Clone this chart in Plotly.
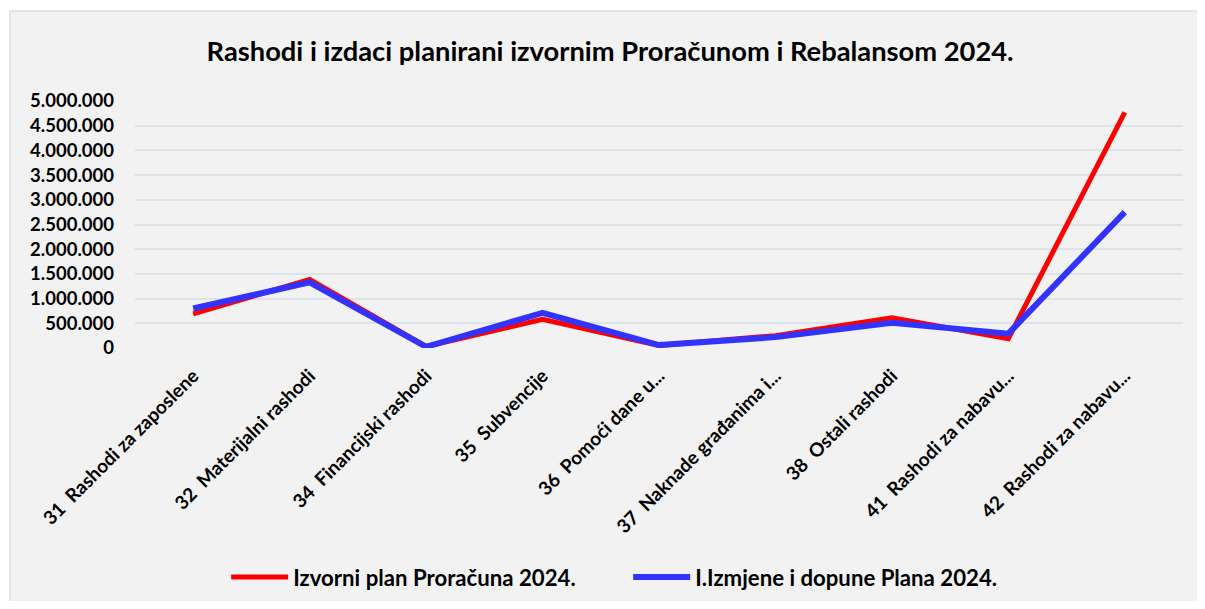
import plotly.graph_objects as go

categories = [
    "31  Rashodi za zaposlene",
    "32  Materijalni rashodi",
    "34  Financijski rashodi",
    "35  Subvencije",
    "36  Pomoći dane u...",
    "37  Naknade građanima i...",
    "38  Ostali rashodi",
    "41  Rashodi za nabavu...",
    "42  Rashodi za nabavu...",
]
izvorni_plan = [690000, 1390000, 30000, 580000, 50000, 250000, 610000, 190000, 4770000]
izmjene_plan = [800000, 1330000, 25000, 710000, 60000, 220000, 510000, 290000, 2750000]

series_names = ["Izvorni plan Proračuna 2024.", "I.Izmjene i dopune Plana 2024."]
tick_vals = [0, 500000, 1000000, 1500000, 2000000, 2500000, 3000000, 3500000, 4000000, 4500000, 5000000]
tick_text = ["0", "500.000", "1.000.000", "1.500.000", "2.000.000", "2.500.000",
             "3.000.000", "3.500.000", "4.000.000", "4.500.000", "5.000.000"]

FONT = "Lato"
BG = "#f2f2f2"

fig = go.Figure()
fig.add_trace(go.Scatter(x=categories, y=izvorni_plan, mode="lines",
                         name="<b>" + series_names[0] + "</b>",
                         line=dict(color="#ff0000", width=5)))
fig.add_trace(go.Scatter(x=categories, y=izmjene_plan, mode="lines",
                         name="<b>" + series_names[1] + "</b>",
                         line=dict(color="#3333ff", width=6)))

fig.add_shape(type="rect", xref="paper", yref="paper", x0=-0.1193, x1=1.3, y0=-1.5, y1=1.3644,
              fillcolor=BG, line=dict(color="#d9dfe7", width=1.5), layer="below")

fig.update_layout(
    width=1197, height=593,
    margin=dict(l=127, r=22, t=93, b=253, autoexpand=False),
    paper_bgcolor="white",
    plot_bgcolor=BG,
    font=dict(family=FONT, color="black", size=18),
    title=dict(text="<b>Rashodi i izdaci planirani izvornim Proračunom i Rebalansom 2024.</b>",
               x=0.503, xanchor="center", y=0.926, yanchor="middle",
               font=dict(family=FONT, size=27.3, color="black")),
    showlegend=True,
    legend=dict(orientation="h", x=0.087, xanchor="left", y=-0.927, yanchor="middle",
                font=dict(family=FONT, size=22.2, color="black"), bgcolor="rgba(0,0,0,0)",
                entrywidth=330, itemwidth=57, traceorder="normal"),
    xaxis=dict(type="category", tickangle=-45, showgrid=False, zeroline=False, showline=False,
               ticks="", tickfont=dict(family=FONT, size=19, color="black"),
               tickvals=categories, ticktext=["<b>" + c + "</b>" for c in categories],
               ticklabelstandoff=12, range=[-0.5, 8.5]),
    yaxis=dict(range=[0, 5000000], tickvals=tick_vals,
               ticktext=["<b>" + t + "</b>" for t in tick_text], showgrid=True,
               gridcolor="#dde3ea", gridwidth=1.5, zeroline=False, showline=False, ticks="",
               ticklabelstandoff=20, tickfont=dict(family=FONT, size=18.5, color="black")),
)

fig.write_html("out.html")
